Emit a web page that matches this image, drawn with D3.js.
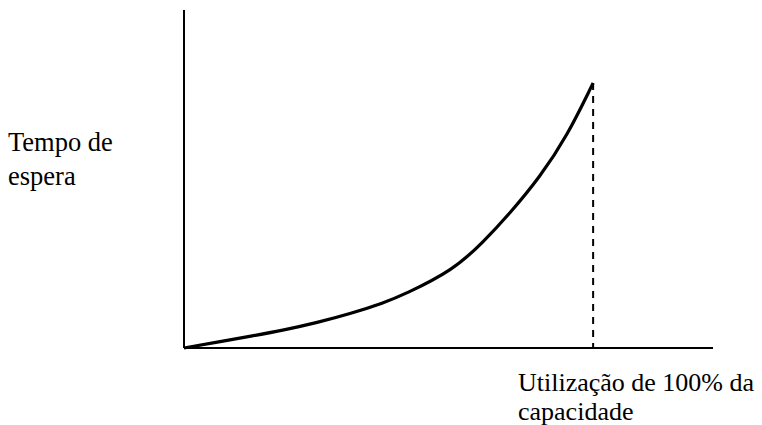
<!DOCTYPE html>
<html><head><meta charset="utf-8">
<script src="https://cdn.jsdelivr.net/npm/d3@7"></script>
<style>body{margin:0;background:#fff}svg{display:block}</style>
</head><body><svg id="c" width="762" height="425"></svg>
<script>
// utilization (% of capacity) vs waiting time (arbitrary units)
const utilization = [0, 8.1, 16.4, 24.4, 32.5, 40.8, 48.9, 53.8, 65.8, 73.1, 79.7, 87.0, 93.6, 100];
const waitTime    = [0, 1.7, 3.5, 5.3, 7.5, 10.2, 13.4, 15.8, 23.0, 31.3, 39.9, 50.6, 62.6, 78.4];
const yLabelLines = ["Tempo de", "espera"];
const xLabelLines = ["Utilização de 100% da", "capacidade"];
const capacityMark = 100;

const svg = d3.select("#c");
const x = d3.scaleLinear().domain([0, 129.3]).range([184, 713]);
const y = d3.scaleLinear().domain([0, 100]).range([348, 10]);

svg.append("line").attr("x1", x(0)).attr("x2", x(0)).attr("y1", y(0)).attr("y2", y(100))
  .attr("stroke", "#000").attr("stroke-width", 2);
svg.append("line").attr("x1", x(0)).attr("x2", x(129.3)).attr("y1", y(0)).attr("y2", y(0))
  .attr("stroke", "#000").attr("stroke-width", 1.8);

const pts = utilization.map((u, i) => [u, waitTime[i]]);
svg.append("path").datum(pts)
  .attr("d", d3.line().x(d => x(d[0])).y(d => y(d[1])).curve(d3.curveBasis))
  .attr("fill", "none").attr("stroke", "#000").attr("stroke-width", 3.2);

svg.append("line").attr("x1", x(capacityMark)).attr("x2", x(capacityMark))
  .attr("y1", y(waitTime[waitTime.length - 1])).attr("y2", y(0))
  .attr("stroke", "#000").attr("stroke-width", 2).attr("stroke-dasharray", "7,6");

const font = "'Liberation Serif','Times New Roman',serif";
svg.append("text").attr("x", 8).attr("y", 151).attr("font-family", font).attr("font-size", 26.5)
  .selectAll("tspan").data(yLabelLines).join("tspan").attr("x", 8).attr("dy", (d, i) => i ? 34 : 0).text(d => d);
svg.append("text").attr("x", 518).attr("y", 391).attr("font-family", font).attr("font-size", 26)
  .selectAll("tspan").data(xLabelLines).join("tspan").attr("x", 518).attr("dy", (d, i) => i ? 29 : 0).text(d => d);
</script></body></html>
